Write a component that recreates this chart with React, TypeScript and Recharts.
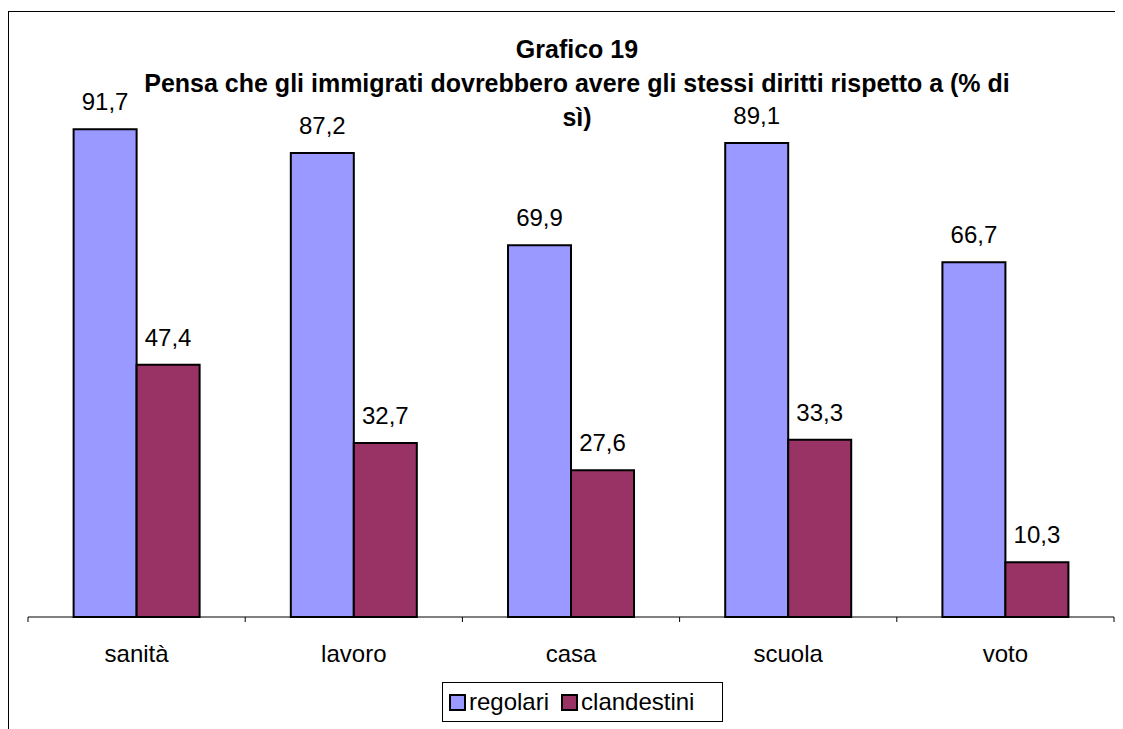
import { Bar, BarChart, LabelList, XAxis, YAxis } from 'recharts';

const categories = ['sanità', 'lavoro', 'casa', 'scuola', 'voto'];
const regolari = [91.7, 87.2, 69.9, 89.1, 66.7];
const clandestini = [47.4, 32.7, 27.6, 33.3, 10.3];
const seriesNames = ['regolari', 'clandestini'];
const seriesColors = ['#9999FF', '#993366'];
const titleLines = [
  'Grafico 19',
  'Pensa che gli immigrati dovrebbero avere gli stessi diritti rispetto a (% di',
  'sì)',
];

const data = categories.map((name, i) => ({
  name,
  regolari: regolari[i],
  clandestini: clandestini[i],
}));

const FONT = 'Arial, "Liberation Sans", sans-serif';

const fmt = (v: any) => String(v).replace('.', ',');

function AxisTick(props: any) {
  const { x, y, payload, index } = props;
  const half = payload.offset ?? 1086 / categories.length / 2;
  const isLast = index === categories.length - 1;
  return (
    <g>
      <line x1={x - half} x2={x - half} y1={y} y2={y + 5} stroke="#000" />
      {isLast && <line x1={x + half} x2={x + half} y1={y} y2={y + 5} stroke="#000" />}
      <text x={x} y={y + 45} textAnchor="middle" fontSize={24} fontFamily={FONT} fill="#000">
        {payload.value}
      </text>
    </g>
  );
}

function LegendBox() {
  return (
    <div
      style={{
        position: 'absolute',
        left: 433,
        top: 670,
        width: 273,
        height: 38,
        display: 'flex',
        alignItems: 'center',
        border: '1px solid #000',
        paddingLeft: 6,
        boxSizing: 'content-box',
        fontFamily: FONT,
        fontSize: 24,
        background: '#fff',
      }}
    >
      {seriesNames.map((n, i) => (
        <span key={n} style={{ display: 'inline-flex', alignItems: 'center', marginRight: i === 0 ? 12 : 0 }}>
          <span
            style={{
              display: 'inline-block',
              width: 13,
              height: 13,
              background: seriesColors[i],
              border: '2px solid #000',
              marginRight: 3,
            }}
          />
          {n}
        </span>
      ))}
    </div>
  );
}

export default function App() {
  return (
    <div
      style={{
        position: 'relative',
        marginTop: 3,
        width: 1114,
        height: 717,
        borderTop: '1px solid #000',
        borderLeft: '1px solid #000',
        fontFamily: FONT,
      }}
    >
      <div
        style={{
          position: 'absolute',
          left: 68,
          width: 1000,
          top: 20,
          textAlign: 'center',
          fontWeight: 'bold',
          fontSize: 25,
          lineHeight: '34px',
          zIndex: 2,
        }}
      >
        {titleLines.map((l) => (
          <div key={l}>{l}</div>
        ))}
      </div>
      <BarChart
        width={1114}
        height={717}
        data={data}
        margin={{ top: 73, right: 9, bottom: 82, left: 19 }}
        barCategoryGap="21%"
        barGap={0}
      >
        <YAxis hide domain={[0, 100]} />
        <XAxis
          dataKey="name"
          height={30}
          axisLine={{ stroke: '#000' }}
          tickLine={false}
          tickSize={0}
          tickMargin={0}
          tick={<AxisTick />}
          interval={0}
        />
        {seriesNames.map((k, i) => (
          <Bar key={k} dataKey={k} fill={seriesColors[i]} stroke="#000" strokeWidth={2} isAnimationActive={false}>
            <LabelList
              dataKey={k}
              position="top"
              offset={19}
              formatter={fmt}
              fontSize={24}
              fontFamily={FONT}
              fill="#000"
            />
          </Bar>
        ))}
      </BarChart>
      <LegendBox />
    </div>
  );
}
